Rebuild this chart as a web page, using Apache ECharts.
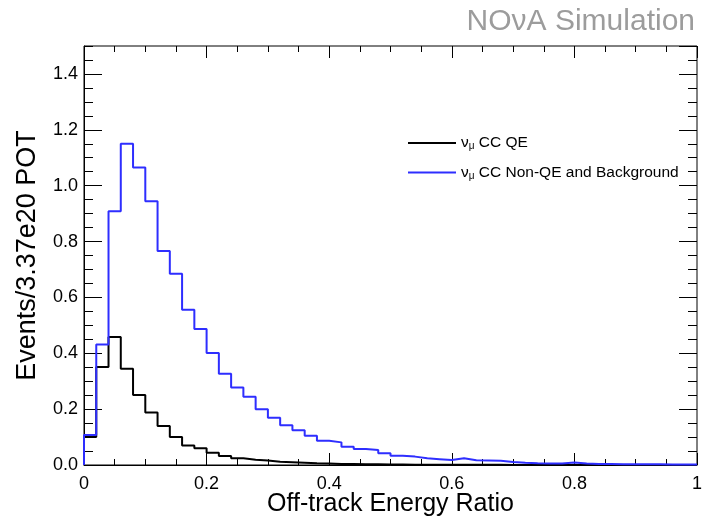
<!DOCTYPE html>
<html>
<head>
<meta charset="utf-8">
<script src="https://cdn.jsdelivr.net/npm/echarts@6/dist/echarts.min.js"></script>
<style>
  html, body { margin: 0; padding: 0; background: #fff; }
  #chart { width: 706px; height: 520px; }
</style>
</head>
<body>
<div id="chart"></div>
<script>
// histogram: 50 bins of width 0.02 from 0 to 1
var binWidth = 0.02;
var seriesNames = ['νμ CC QE', 'νμ CC Non-QE and Background'];
var ccQE = [
  0.100, 0.351, 0.458, 0.345, 0.251, 0.188, 0.140, 0.100, 0.070, 0.060,
  0.044, 0.032, 0.024, 0.019, 0.016, 0.012, 0.010, 0.008, 0.006, 0.005,
  0.004, 0.004, 0.003, 0.003, 0.002, 0.002, 0.001, 0.001, 0.001, 0.001,
  0.001, 0.001, 0.001, 0.001, 0.000, 0.000, 0.000, 0.000, 0.000, 0.000,
  0.000, 0.000, 0.000, 0.000, 0.000, 0.000, 0.000, 0.000, 0.000, 0.000
];
var ccNonQE = [
  0.107, 0.431, 0.908, 1.150, 1.065, 0.944, 0.766, 0.685, 0.556, 0.487,
  0.401, 0.327, 0.277, 0.244, 0.200, 0.169, 0.142, 0.124, 0.105, 0.087,
  0.081, 0.065, 0.057, 0.054, 0.042, 0.033, 0.030, 0.024, 0.021, 0.018,
  0.024, 0.017, 0.016, 0.015, 0.011, 0.008, 0.006, 0.005, 0.005, 0.009,
  0.005, 0.004, 0.004, 0.003, 0.003, 0.003, 0.003, 0.002, 0.002, 0.002
];

var FONT = 'Liberation Sans, Arial, Helvetica, sans-serif';

// turn bin contents into step points (x = lower bin edge)
function toSteps(vals) {
  var pts = [[0, 0]];
  for (var i = 0; i < vals.length; i++) {
    pts.push([+(i * binWidth).toFixed(4), vals[i]]);
  }
  pts.push([+(vals.length * binWidth).toFixed(4), 0]);
  return pts;
}

function xAx(pos, interval, len, labels) {
  return {
    type: 'value', position: pos, min: 0, max: 1, interval: interval,
    axisLine: { show: labels, onZero: false, lineStyle: { color: '#000', width: 1 } },
    axisTick: { show: true, inside: true, length: len, lineStyle: { color: '#000', width: 1 } },
    axisLabel: { show: labels, fontSize: 18, fontFamily: FONT, color: '#000', margin: 10 },
    splitLine: { show: false },
    name: labels ? 'Off-track Energy Ratio' : '',
    nameLocation: 'middle', nameGap: 27, nameMoveOverlap: false,
    nameTextStyle: { fontSize: 25, fontFamily: FONT, color: '#000' }
  };
}

function yAx(pos, interval, len, labels) {
  return {
    type: 'value', position: pos, min: 0, max: 1.5, interval: interval,
    axisLine: { show: labels, onZero: false, lineStyle: { color: '#000', width: 1 } },
    axisTick: { show: true, inside: true, length: len, lineStyle: { color: '#000', width: 1 } },
    axisLabel: {
      show: labels, fontSize: 18, fontFamily: FONT, color: '#000', margin: 6,
      showMaxLabel: false,
      formatter: function (v) { return v.toFixed(1); }
    },
    splitLine: { show: false },
    name: labels ? 'Events/3.37e20 POT' : '',
    nameLocation: 'middle', nameGap: 43,
    nameTextStyle: { fontSize: 27, fontFamily: FONT, color: '#000' }
  };
}

var chart = echarts.init(document.getElementById('chart'), null, { renderer: 'canvas' });

var option = {
  backgroundColor: '#fff',
  animation: false,
  title: {
    text: 'NOνA Simulation',
    right: 6, top: 2,
    textStyle: { fontSize: 30, fontWeight: 'normal', fontFamily: FONT, color: '#9c9c9c' }
  },
  grid: {
    left: 84, right: 9, top: 46, bottom: 55, show: true,
    borderColor: '#000', borderWidth: 1,
    outerBoundsMode: 'none', containLabel: false
  },
  legend: {
    orient: 'vertical', left: 403, top: 130,
    itemWidth: 48, itemHeight: 2, itemGap: 13, icon: 'rect',
    data: seriesNames,
    textStyle: {
      fontSize: 15.5, fontFamily: FONT, color: '#000',
      rich: {
        n: { fontSize: 15.5, fontFamily: FONT, color: '#000' },
        s: { fontSize: 10, fontFamily: FONT, color: '#000', verticalAlign: 'bottom', padding: [7, 0, 0, 0] },
        t: { fontSize: 15.5, fontFamily: FONT, color: '#000' }
      }
    },
    formatter: function (name) {
      return '{n|ν}{s|μ}{t|' + name.slice(2) + '}';
    }
  },
  xAxis: [
    xAx('bottom', 0.2, 12, true),
    xAx('bottom', 0.05, 6, false),
    xAx('top', 0.2, 12, false),
    xAx('top', 0.05, 6, false)
  ],
  yAxis: [
    yAx('left', 0.2, 18, true),
    yAx('left', 0.05, 9, false),
    yAx('right', 0.2, 18, false),
    yAx('right', 0.05, 9, false)
  ],
  series: [
    {
      name: seriesNames[0], type: 'line', step: 'end', showSymbol: false,
      xAxisIndex: 0, yAxisIndex: 0,
      lineStyle: { color: '#000', width: 2 }, itemStyle: { color: '#000' },
      data: toSteps(ccQE)
    },
    {
      name: seriesNames[1], type: 'line', step: 'end', showSymbol: false,
      xAxisIndex: 0, yAxisIndex: 0,
      lineStyle: { color: '#2e2eff', width: 2 }, itemStyle: { color: '#2e2eff' },
      data: toSteps(ccNonQE)
    }
  ]
};

chart.setOption(option);
</script>
</body>
</html>
